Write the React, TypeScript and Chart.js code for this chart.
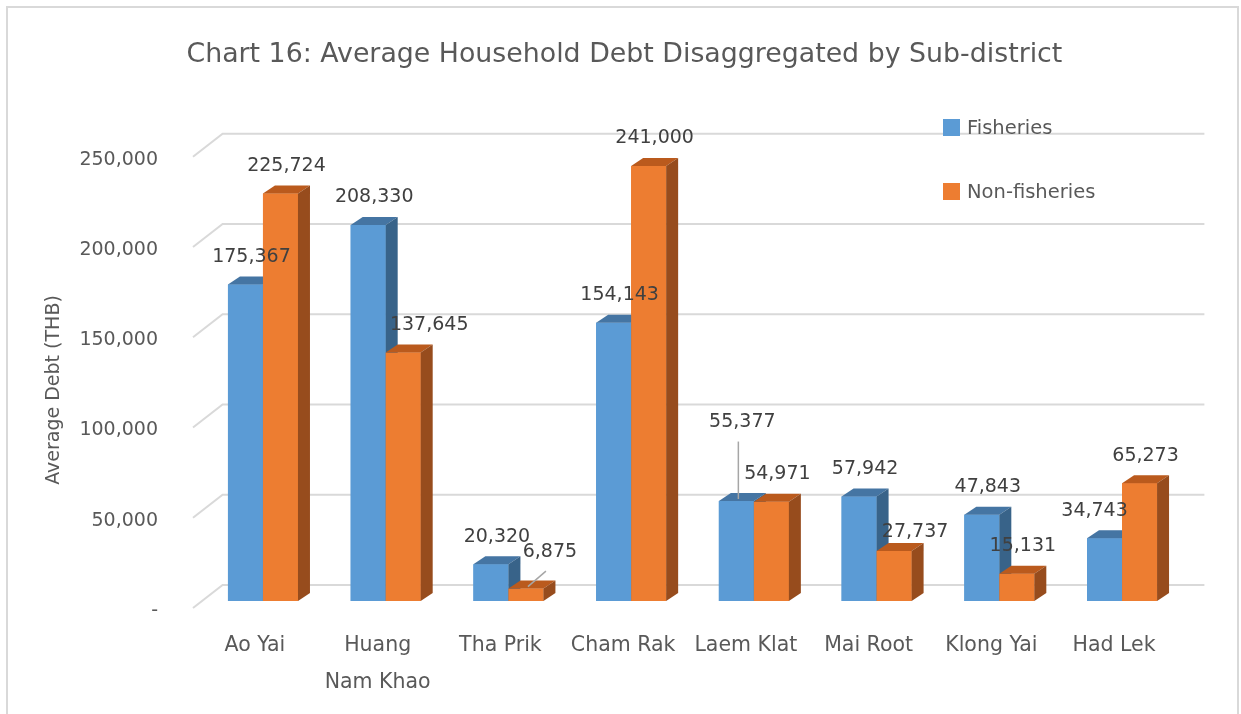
import React, { useEffect, useRef } from "react";
import { Chart, registerables } from "chart.js";

Chart.register(...registerables);

// ---------- data ----------
const chartTitle = "Chart 16: Average Household Debt Disaggregated by Sub-district";
const yAxisTitle = "Average Debt (THB)";
const categories: (string | string[])[] = [
  "Ao Yai",
  ["Huang", "Nam Khao"],
  "Tha Prik",
  "Cham Rak",
  "Laem Klat",
  "Mai Root",
  "Klong Yai",
  "Had Lek",
];
const seriesNames = ["Fisheries", "Non-fisheries"];
const fisheries = [175367, 208330, 20320, 154143, 55377, 57942, 47843, 34743];
const nonFisheries = [225724, 137645, 6875, 241000, 54971, 27737, 15131, 65273];
const yMin = 0;
const yMax = 250000;
const yStep = 50000;

// manual data-label nudges (px) and leader lines, as placed in the source chart
const fishLabelShift = [[0, 0], [0, 0], [0, 0], [0, 0], [0, -51], [0, 0], [0, 0], [-16, 0]];
const nonFishLabelShift = [[0, 0], [20, 0], [18, -9], [0, 0], [0, 0], [15, 9], [0, 0], [0, 0]];
const fishLeader = [false, false, false, false, true, false, false, false];
const nonFishLeader = [false, false, true, false, false, false, false, false];

// ---------- styles ----------
const FONT = "'DejaVu Sans', sans-serif";
const TEXT = "#595959";
const LABEL = "#404040";
const GRID = "#D9D9D9";
const faces = [
  { front: "#5B9BD5", top: "#4575A3", side: "#386389" },
  { front: "#ED7D31", top: "#BA5A1D", side: "#974C1D" },
];
const DEPTH_X = 12;
const DEPTH_Y = 8;
const WALL_BACK_X = 21;
const WALL_BACK_Y = 16;
const WALL_FRONT_X = -8.6;
const WALL_FRONT_Y = 7;

const threeD = {
  id: "threeD",
  beforeDraw(chart: any) {
    const { ctx } = chart;
    ctx.save();
    ctx.fillStyle = "#ffffff";
    ctx.fillRect(0, 0, chart.width, chart.height);
    ctx.strokeStyle = GRID;
    ctx.lineWidth = 2;
    ctx.strokeRect(7, 7, 1231, 730);
    ctx.restore();
  },
  beforeDatasetsDraw(chart: any) {
    const { ctx, chartArea } = chart;
    const y = chart.scales.y;
    ctx.save();
    ctx.strokeStyle = GRID;
    ctx.lineWidth = 2;
    for (const t of y.ticks) {
      const py = y.getPixelForValue(t.value);
      ctx.beginPath();
      ctx.moveTo(chartArea.left + WALL_FRONT_X, py + WALL_FRONT_Y);
      ctx.lineTo(chartArea.left + WALL_BACK_X, py - WALL_BACK_Y);
      ctx.lineTo(chartArea.right + WALL_BACK_X, py - WALL_BACK_Y);
      ctx.stroke();
    }
    ctx.restore();
  },
  afterDatasetsDraw(chart: any) {
    const { ctx } = chart;
    ctx.save();
    // bars, drawn in series order so the right bar hides the left bar's side
    const n = categories.length;
    for (let i = 0; i < n; i++) {
      for (let d = 0; d < chart.data.datasets.length; d++) {
        const meta = chart.getDatasetMeta(d);
        const el = meta.data[i];
        if (!el) continue;
        const { x, y, base, width } = el.getProps(["x", "y", "base", "width"], true);
        const x0 = x - width / 2;
        const x1 = x + width / 2;
        const f = faces[d];
        ctx.fillStyle = f.front;
        ctx.fillRect(x0, y, width, base - y);
        ctx.fillStyle = f.top;
        ctx.beginPath();
        ctx.moveTo(x0, y);
        ctx.lineTo(x1, y);
        ctx.lineTo(x1 + DEPTH_X, y - DEPTH_Y);
        ctx.lineTo(x0 + DEPTH_X, y - DEPTH_Y);
        ctx.closePath();
        ctx.fill();
        ctx.fillStyle = f.side;
        ctx.beginPath();
        ctx.moveTo(x1, y);
        ctx.lineTo(x1 + DEPTH_X, y - DEPTH_Y);
        ctx.lineTo(x1 + DEPTH_X, base - DEPTH_Y);
        ctx.lineTo(x1, base);
        ctx.closePath();
        ctx.fill();
      }
    }
    // data labels
    const shifts = [fishLabelShift, nonFishLabelShift];
    const leaders = [fishLeader, nonFishLeader];
    ctx.font = `19px ${FONT}`;
    ctx.textAlign = "center";
    ctx.textBaseline = "middle";
    for (let d = 0; d < chart.data.datasets.length; d++) {
      const meta = chart.getDatasetMeta(d);
      const vals = chart.data.datasets[d].data;
      meta.data.forEach((el: any, i: number) => {
        const { x, y } = el.getProps(["x", "y"], true);
        const lx = x + 6 + shifts[d][i][0];
        const ly = y - 27.5 + shifts[d][i][1];
        if (leaders[d][i]) {
          ctx.strokeStyle = "#A6A6A6";
          ctx.lineWidth = 1.5;
          ctx.beginPath();
          ctx.moveTo(lx - 4, ly + 19);
          ctx.lineTo(x + 2, y - 2);
          ctx.stroke();
        }
        ctx.fillStyle = LABEL;
        ctx.fillText(Number(vals[i]).toLocaleString("en-US"), lx, ly);
      });
    }
    ctx.restore();
  },
  afterDraw(chart: any) {
    const { ctx } = chart;
    ctx.save();
    // y-axis title
    ctx.translate(54, 390);
    ctx.rotate(-Math.PI / 2);
    ctx.font = `19px ${FONT}`;
    ctx.fillStyle = TEXT;
    ctx.textAlign = "center";
    ctx.textBaseline = "middle";
    ctx.fillText(yAxisTitle, 0, 0);
    ctx.restore();
    // legend
    ctx.save();
    ctx.font = `19.5px ${FONT}`;
    ctx.textAlign = "left";
    ctx.textBaseline = "middle";
    chart.data.datasets.forEach((ds: any, i: number) => {
      const top = 119 + i * 64;
      ctx.fillStyle = ds.backgroundColor;
      ctx.fillRect(943, top, 17, 17);
      ctx.fillStyle = TEXT;
      ctx.fillText(ds.label, 967, top + 10);
    });
    ctx.restore();
  },
};

export default function App() {
  const ref = useRef<HTMLCanvasElement | null>(null);
  useEffect(() => {
    if (!ref.current) return;
    const chart = new Chart(ref.current, {
      type: "bar",
      data: {
        labels: categories as any,
        datasets: [
          { label: seriesNames[0], data: fisheries, backgroundColor: faces[0].front, borderWidth: 0 },
          { label: seriesNames[1], data: nonFisheries, backgroundColor: faces[1].front, borderWidth: 0 },
        ],
      },
      options: {
        responsive: false,
        animation: false,
        devicePixelRatio: 1,
        events: [],
        layout: { padding: { left: 65.4, right: 57.6, top: 0, bottom: 0 } },
        datasets: { bar: { categoryPercentage: 0.5705, barPercentage: 1 } },
        plugins: {
          legend: { display: false },
          tooltip: { enabled: false },
          title: {
            display: true,
            text: chartTitle,
            color: TEXT,
            font: { family: FONT, size: 26.8, weight: "normal" as any },
            padding: { top: 38.9, bottom: 78.7 },
          },
        },
        scales: {
          x: {
            grid: { display: false, drawTicks: false },
            border: { display: false },
            ticks: {
              color: TEXT,
              font: { family: FONT, size: 20.5, lineHeight: 1.8 },
              padding: 26.5,
              labelOffset: -8,
              maxRotation: 0,
              autoSkip: false,
            },
            afterFit: (s: any) => {
              s.height = 113;
            },
          },
          y: {
            min: yMin,
            max: yMax,
            grid: { display: false, drawTicks: false },
            border: { display: false },
            ticks: {
              stepSize: yStep,
              color: TEXT,
              font: { family: FONT, size: 19 },
              padding: 43.6,
              labelOffset: 10,
              callback: (v: any) => (Number(v) === 0 ? "-" : Number(v).toLocaleString("en-US")),
            },
            afterFit: (s: any) => {
              s.width = 136.2;
            },
          },
        },
      },
      plugins: [threeD],
    });
    return () => chart.destroy();
  }, []);
  return (
    <div style={{ position: "fixed", left: 0, top: 0, width: 1241, height: 714, background: "#fff" }}>
      <canvas ref={ref} width={1241} height={714} style={{ display: "block" }} />
    </div>
  );
}
